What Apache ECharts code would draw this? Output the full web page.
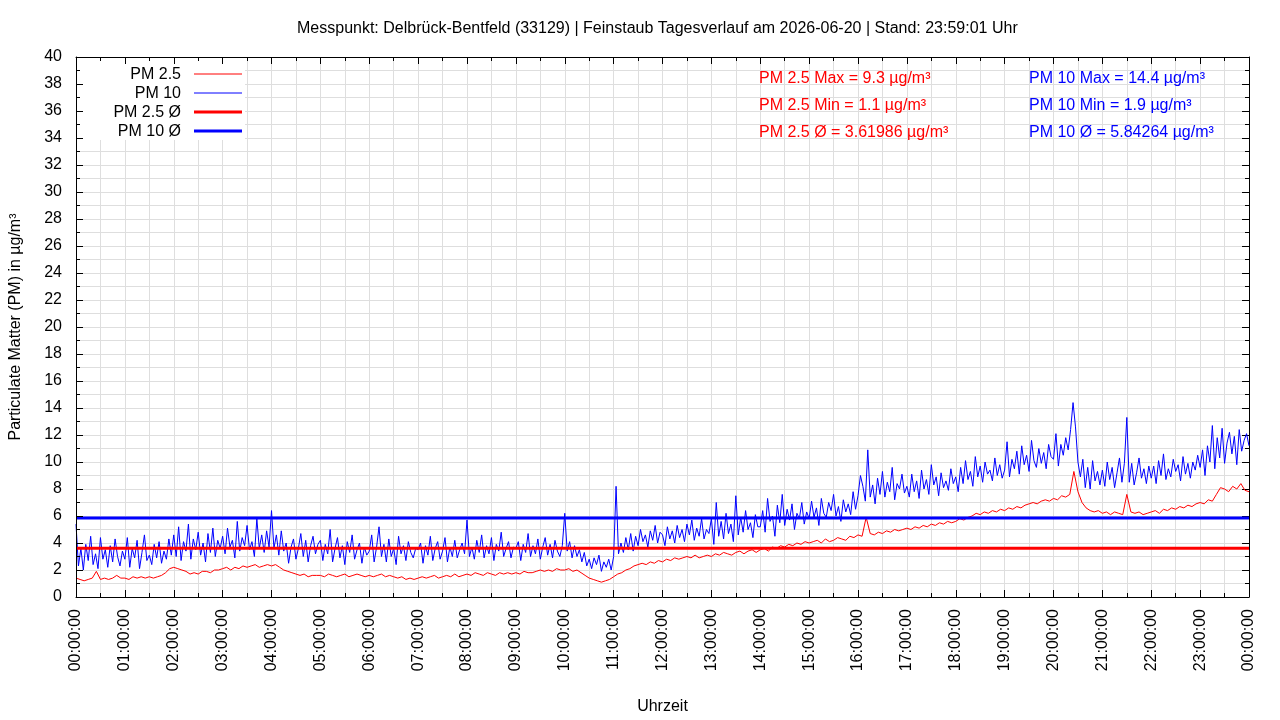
<!DOCTYPE html>
<html><head><meta charset="utf-8">
<script src="https://cdn.jsdelivr.net/npm/echarts@6/dist/echarts.min.js"></script>
<style>html,body{margin:0;padding:0;background:#fff}#c{width:1280px;height:720px}</style>
</head><body><div id="c"></div>
<script>
// PM 2.5: 5-minute samples, 00:00 .. 24:00
const pm25 = [
1.4,1.3,1.2,1.3,1.4,1.9,1.3,1.4,1.3,1.4,1.6,1.4,
1.4,1.3,1.5,1.4,1.5,1.4,1.5,1.4,1.5,1.6,1.8,2.1,
2.2,2.1,2.0,1.9,1.7,1.8,1.7,1.9,1.9,1.8,2.0,2.0,
2.1,2.2,2.0,2.2,2.1,2.3,2.2,2.3,2.4,2.2,2.3,2.4,
2.3,2.4,2.2,2.0,1.9,1.8,1.7,1.6,1.7,1.5,1.6,1.6,
1.6,1.5,1.7,1.6,1.5,1.6,1.7,1.5,1.6,1.7,1.6,1.5,
1.6,1.5,1.6,1.7,1.5,1.6,1.5,1.4,1.5,1.3,1.4,1.3,
1.4,1.5,1.4,1.5,1.6,1.4,1.5,1.6,1.5,1.7,1.5,1.6,
1.7,1.6,1.8,1.7,1.6,1.8,1.7,1.6,1.8,1.7,1.8,1.7,
1.8,1.7,1.9,1.8,1.8,1.9,2.0,1.9,2.0,1.9,2.1,2.0,
2.0,2.1,1.9,2.0,1.8,1.6,1.4,1.3,1.2,1.1,1.2,1.3,
1.5,1.7,1.8,2.0,2.1,2.3,2.4,2.5,2.4,2.6,2.5,2.7,
2.6,2.8,2.7,2.9,2.8,2.9,3.0,2.9,3.1,2.9,3.0,3.1,
3.0,3.2,3.1,3.3,3.2,3.1,3.3,3.4,3.2,3.4,3.5,3.3,
3.5,3.6,3.4,3.7,3.6,3.8,3.7,3.9,3.8,4.0,3.9,4.1,
4.0,4.1,4.2,4.0,4.3,4.1,4.2,4.4,4.3,4.2,4.5,4.4,
4.6,4.5,5.9,4.7,4.6,4.8,4.7,4.9,4.8,5.0,4.9,5.0,
5.1,5.0,5.2,5.1,5.3,5.2,5.4,5.3,5.5,5.4,5.6,5.5,
5.6,5.8,5.7,5.9,6.0,6.2,6.1,6.3,6.2,6.4,6.3,6.5,
6.4,6.6,6.5,6.7,6.6,6.8,6.9,7.0,6.9,7.1,7.2,7.1,
7.3,7.2,7.5,7.4,7.6,9.3,7.8,7.0,6.6,6.4,6.3,6.4,
6.2,6.3,6.1,6.3,6.2,6.1,7.6,6.3,6.2,6.3,6.1,6.2,
6.3,6.4,6.2,6.5,6.4,6.6,6.5,6.7,6.6,6.8,6.7,6.9,
7.0,6.9,7.2,7.1,7.6,8.1,8.0,7.8,8.2,8.0,8.4,7.9,
7.8
];
// PM 10: 3-minute samples, 00:00 .. 24:00
const pm10 = [
5.4,2.3,3.6,2.0,3.9,2.7,4.5,2.4,3.2,2.1,4.4,2.8,3.5,2.2,3.8,2.6,4.3,3.0,2.3,3.4,
2.8,4.4,2.2,3.6,2.9,4.2,2.1,3.3,4.6,2.7,3.1,2.4,3.9,2.9,4.1,2.5,3.4,2.8,4.3,3.1,
4.6,3.0,5.2,2.7,4.1,3.4,5.4,2.8,4.3,3.5,4.8,3.1,4.0,2.6,4.7,3.3,5.1,3.0,4.2,3.6,
4.5,3.2,5.1,3.7,4.2,2.9,5.6,3.4,4.4,3.8,5.3,3.5,4.1,3.0,5.8,3.6,4.6,3.3,4.9,3.7,
6.4,3.6,4.6,3.1,4.9,3.4,4.0,2.5,3.7,4.3,2.8,3.6,4.7,3.0,4.2,2.6,3.8,4.5,3.2,3.9,
4.2,2.7,3.9,3.2,5.0,2.6,3.6,4.4,2.9,3.8,2.4,4.1,3.3,4.6,2.8,3.5,4.0,2.5,3.7,3.1,
3.4,4.6,2.6,3.7,5.2,3.0,3.9,2.6,4.3,3.0,3.6,2.4,4.5,3.2,3.8,2.7,4.1,3.3,2.9,3.6,
3.5,4.0,2.5,3.8,3.1,4.5,2.7,3.6,4.1,2.8,3.4,4.4,2.6,3.7,3.0,4.2,2.9,3.5,4.0,3.2,
5.7,3.0,3.7,2.8,4.2,3.3,4.6,2.9,3.8,3.2,4.4,2.7,3.9,3.4,4.8,3.0,3.6,4.1,2.9,3.7,
3.6,4.1,2.7,3.9,3.3,4.7,3.0,3.8,3.2,4.3,2.8,3.7,4.4,3.1,3.9,2.9,4.2,3.4,3.0,3.8,
6.2,3.4,4.1,2.9,3.8,3.0,3.5,2.6,3.3,2.3,2.8,2.1,2.9,2.4,3.1,1.9,2.6,2.2,2.8,2.0,
3.0,8.2,3.2,4.0,3.3,4.4,3.5,4.7,3.4,4.5,3.8,5.0,4.1,4.6,3.7,4.9,4.2,5.3,4.0,4.8,
4.6,3.8,5.2,4.3,4.9,4.0,5.3,4.4,5.0,4.1,5.4,4.6,5.7,4.2,5.1,4.5,5.8,4.3,5.0,4.7,
5.8,3.9,7.0,4.5,5.6,4.3,6.2,4.7,5.4,4.1,7.5,4.6,5.9,4.8,6.4,5.0,5.5,4.4,6.1,5.2,
5.2,6.4,4.8,7.3,5.6,6.0,4.5,6.8,5.5,7.6,5.3,6.5,5.7,6.9,5.0,6.2,5.8,7.0,5.4,6.3,
5.8,7.1,5.9,6.6,5.3,7.3,6.2,5.9,7.0,6.4,7.6,6.0,6.7,5.6,7.2,6.3,6.9,6.1,7.8,6.5,
7.5,9.0,8.2,7.1,10.9,7.4,8.3,6.9,8.8,7.6,9.3,7.4,8.5,7.8,9.6,7.2,8.4,8.0,9.1,7.7,
8.2,7.4,9.1,7.8,8.6,7.3,9.4,8.0,8.7,7.6,9.8,8.3,8.9,7.5,9.2,8.1,8.6,7.9,9.5,8.4,
8.9,7.8,9.6,8.4,10.1,8.7,9.3,8.2,10.4,8.9,9.7,8.5,10.0,9.1,9.4,8.6,10.3,9.0,9.8,8.8,
9.4,11.5,8.9,10.2,9.5,10.8,9.1,11.2,9.8,10.5,9.3,11.6,10.1,9.6,11.0,9.9,10.7,9.5,11.3,10.4,
10.2,12.1,9.7,11.3,10.5,11.8,10.9,12.4,14.4,12.6,10.0,8.9,10.2,8.1,9.6,8.0,10.1,8.6,9.3,8.3,
9.4,8.2,10.0,8.7,9.6,8.1,9.2,10.3,8.5,9.9,13.3,8.5,9.9,8.3,9.2,10.3,8.8,9.5,8.4,9.7,
8.8,9.7,8.4,10.1,9.0,10.6,8.7,9.5,8.9,10.2,9.3,9.8,8.6,10.4,9.1,9.9,8.8,10.0,9.4,10.5,
9.6,10.9,9.0,11.2,10.0,12.7,9.5,11.8,10.3,12.5,9.9,11.4,12.2,10.6,11.9,9.8,12.4,10.8,11.6,12.1,
11.2
];
const pm25Avg = 3.61986;
const pm10Avg = 5.84264;
const legendLabels = ['PM 2.5', 'PM 10', 'PM 2.5 Ø', 'PM 10 Ø'];
const statsPm25 = ['PM 2.5 Max = 9.3 µg/m³', 'PM 2.5 Min = 1.1 µg/m³', 'PM 2.5 Ø = 3.61986 µg/m³'];
const statsPm10 = ['PM 10 Max = 14.4 µg/m³', 'PM 10 Min = 1.9 µg/m³', 'PM 10 Ø = 5.84264 µg/m³'];
const titleText = 'Messpunkt: Delbrück-Bentfeld (33129) | Feinstaub Tagesverlauf am 2026-06-20 | Stand: 23:59:01 Uhr';
const yAxisTitle = 'Particulate Matter (PM) in µg/m³';
const xAxisTitle = 'Uhrzeit';

const DAY = 1440;
const RED = '#ff0000', BLUE = '#0000ff', GRID = '#dedede';
const FONT = 'Liberation Sans, Arial, sans-serif';
const toPairs = arr => arr.map((v, i) => [i * DAY / (arr.length - 1), v]);
const pad = n => String(n).padStart(2, '0');

const chart = echarts.init(document.getElementById('c'), null, {renderer: 'canvas'});
const tickStyle = {show: true, inside: true, length: 7, lineStyle: {color: '#000', width: 1}};
const minorTickStyle = {show: true, splitNumber: 2, length: 4, lineStyle: {color: '#000', width: 1}};
const gridLine = {show: true, lineStyle: {color: GRID, width: 1}};
const baseX = {
  type: 'value', min: 0, max: DAY, interval: 60,
  axisLine: {show: true, onZero: false, lineStyle: {color: '#000', width: 1}},
  axisTick: tickStyle, minorTick: minorTickStyle
};
const baseY = {
  type: 'value', min: 0, max: 40, interval: 2,
  axisLine: {show: true, onZero: false, lineStyle: {color: '#000', width: 1}},
  axisTick: tickStyle, minorTick: minorTickStyle
};

const graphics = [{type: 'rect', z: 50, shape: {x: 75, y: 58, width: 170, height: 82}, style: {fill: '#fff'}}];
const legendColors = [RED, BLUE, RED, BLUE];
const legendWidths = [1, 1, 3, 3];
legendLabels.forEach((t, i) => {
  const y = 75 + i * 19;
  graphics.push({type: 'text', z: 60, x: 181, y: y, style: {text: t, fill: '#000', font: '16px ' + FONT, textAlign: 'right', textVerticalAlign: 'middle'}});
  graphics.push({type: 'line', z: 60, shape: {x1: 194, y1: y - 1, x2: 242, y2: y - 1}, style: {stroke: legendColors[i], lineWidth: legendWidths[i]}});
});
statsPm25.forEach((t, i) => graphics.push({type: 'text', z: 60, x: 759, y: 79 + i * 27, style: {text: t, fill: RED, font: '16px ' + FONT, textVerticalAlign: 'middle'}}));
statsPm10.forEach((t, i) => graphics.push({type: 'text', z: 60, x: 1029, y: 79 + i * 27, style: {text: t, fill: BLUE, font: '16px ' + FONT, textVerticalAlign: 'middle'}}));

chart.setOption({
  animation: false,
  backgroundColor: '#fff',
  textStyle: {fontFamily: FONT},
  title: {text: titleText, left: 292, top: 16, textStyle: {fontSize: 16, fontWeight: 'normal', color: '#000', fontFamily: FONT}},
  grid: {left: 74, right: 31, top: 57, bottom: 123, containLabel: false},
  xAxis: [
    // bottom axis: labels, ticks and vertical grid lines (below the legend box)
    Object.assign({}, baseX, {
      position: 'bottom', z: 0,
      axisLabel: {show: true, rotate: 90, margin: 12, fontSize: 16, color: '#000', fontFamily: FONT,
        formatter: v => pad(Math.floor(v / 60) % 24) + ':00:00'},
      splitLine: gridLine, minorSplitLine: gridLine,
      name: xAxisTitle, nameLocation: 'middle', nameGap: 102,
      nameTextStyle: {fontSize: 16, color: '#000', fontFamily: FONT}
    }),
    // top mirror axis: frame and ticks above the legend box
    Object.assign({}, baseX, {position: 'top', z: 70, axisLabel: {show: false}, splitLine: {show: false}})
  ],
  yAxis: [
    // left axis: labels, frame and ticks above the legend box
    Object.assign({}, baseY, {
      position: 'left', z: 70,
      axisLabel: {show: true, margin: 14, fontSize: 16, color: '#000', fontFamily: FONT},
      splitLine: {show: false},
      name: yAxisTitle, nameLocation: 'middle', nameGap: 52,
      nameTextStyle: {fontSize: 16, color: '#000', fontFamily: FONT}
    }),
    // right mirror axis: horizontal grid lines (below the legend box)
    Object.assign({}, baseY, {position: 'right', z: 0, axisLabel: {show: false},
      splitLine: gridLine, minorSplitLine: gridLine})
  ],
  series: [
    {name: legendLabels[0], type: 'line', data: toPairs(pm25), showSymbol: false, symbol: 'none',
      lineStyle: {color: RED, width: 1}, itemStyle: {color: RED}, z: 2},
    {name: legendLabels[1], type: 'line', data: toPairs(pm10), showSymbol: false, symbol: 'none',
      lineStyle: {color: BLUE, width: 1}, itemStyle: {color: BLUE}, z: 3},
    {name: legendLabels[2], type: 'line', data: [[0, pm25Avg], [DAY, pm25Avg]], showSymbol: false, symbol: 'none',
      lineStyle: {color: RED, width: 3}, z: 4},
    {name: legendLabels[3], type: 'line', data: [[0, pm10Avg], [DAY, pm10Avg]], showSymbol: false, symbol: 'none',
      lineStyle: {color: BLUE, width: 3}, z: 5}
  ],
  graphic: graphics
});
</script>
</body></html>
